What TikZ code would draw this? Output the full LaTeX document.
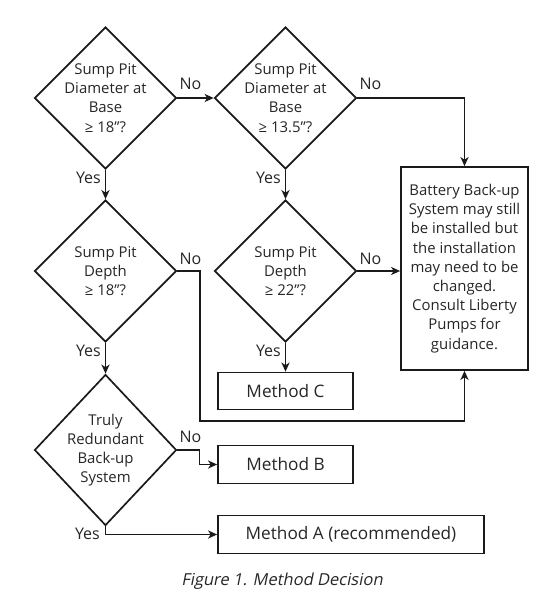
\documentclass[tikz,border=0pt]{standalone}
\usepackage{fontspec}
\setmainfont{Open Sans}
\newfontfamily\capfont[FakeSlant=0.2]{Open Sans}
\usetikzlibrary{shapes.geometric}
\usetikzlibrary{arrows.meta}
\usetikzlibrary{positioning}
\definecolor{txt}{HTML}{262626}
\definecolor{ink}{HTML}{1A1A1A}

\tikzset{
  decision/.style={diamond, draw=ink, line width=1.7pt, minimum width=142pt, minimum height=142pt,
    inner sep=-18pt, align=center, text=txt, font=\fontsize{14.9}{19.2}\selectfont},
  outcome/.style={rectangle, draw=ink, line width=1.7pt, align=center, text=txt},
  flow/.style={draw=ink, line width=1.7pt, -{Stealth[length=9pt,width=8pt,inset=2.5pt]}},
  lbl/.style={inner sep=0pt, text=txt, font=\fontsize{16}{18}\selectfont},
}

\begin{document}
\begin{tikzpicture}[x=1pt,y=-1pt]
    \useasboundingbox (0,0) rectangle (556,605);

    % decisions
    \node[decision] (diaA) at (105.5,98) {Sump Pit\\Diameter at\\Base\\≥ 18”?};
    \node[decision] (diaB) at (285.5,98) {Sump Pit\\Diameter at\\Base\\≥ 13.5”?};
    \node[decision] (depA) at (105.5,271) {Sump Pit\\Depth\\≥ 18”?};
    \node[decision] (depB) at (285.5,271) {Sump Pit\\Depth\\≥ 22”?};
    \node[decision, minimum height=151pt] (redund) at (105.5,450) {Truly\\Redundant\\Back-up\\System};

    % outcomes
    \node[outcome, minimum width=127pt, minimum height=203pt, font=\fontsize{14.9}{19.2}\selectfont] (consult) at (464.5,268.5)
        {Battery Back-up\\System may still\\be installed but\\the installation\\may need to be\\changed.\\Consult Liberty\\Pumps for\\guidance.};
    \node[outcome, minimum width=135pt, minimum height=37pt, font=\fontsize{17.2}{19}\selectfont] (methC) at (285.5,391) {Method C};
    \node[outcome, minimum width=135pt, minimum height=38pt, font=\fontsize{17.2}{19}\selectfont] (methB) at (285.5,464.5) {Method B};
    \node[outcome, minimum width=266pt, minimum height=38pt, font=\fontsize{17.2}{19}\selectfont] (methA) at (351,534.5) {Method A (recommended)};

    \coordinate (detour) at (200,421);

    % connectors
    \draw[flow] (diaA.east) -- (diaB.west);
    \draw[flow] (diaB.east) -| (consult.north);
    \draw[flow] (diaA.south) -- (depA.north);
    \draw[flow] (diaB.south) -- (depB.north);
    \draw[flow] (depA.east) -| (detour) -| (consult.south);
    \draw[flow] (depB.east) -- (depB.east -| consult.west);
    \draw[flow] (depB.south) -- (methC.north);
    \draw[flow] (depA.south) -- (redund.north);
    \draw[flow] (redund.east) -- ++(22,0) |- (methB.west);
    \draw[flow] (redund.south) |- (methA.west);

    % yes / no
    \node[lbl, above right=8pt and 2pt of diaA.east] (noA) {No};
    \node[lbl, above right=8pt and 2pt of diaB.east] (noB) {No};
    \node[lbl, above right=6pt and 2pt of depA.east] (noC) {No};
    \node[lbl, above right=6.5pt and 2pt of depB.east] (noD) {No};
    \node[lbl, above right=7.5pt and 2pt of redund.east] (noE) {No};
    \node[lbl, anchor=base east] (yesA) at ([shift={(-4.5,13.5)}]diaA.south) {Yes};
    \node[lbl, anchor=base east] (yesB) at ([shift={(-4.5,13.5)}]diaB.south) {Yes};
    \node[lbl, anchor=base east] (yesC) at ([shift={(-4.5,13.5)}]depA.south) {Yes};
    \node[lbl, anchor=base east] (yesD) at ([shift={(-4.5,13.5)}]depB.south) {Yes};
    \node[lbl, anchor=base east] (yesE) at ([shift={(-5.5,13.5)}]redund.south) {Yes};

    \node[anchor=base, inner sep=0pt, text=txt, font=\capfont\fontsize{16.5}{19}\selectfont] (caption) at (282,585) {Figure 1. Method Decision};
\end{tikzpicture}
\end{document}
